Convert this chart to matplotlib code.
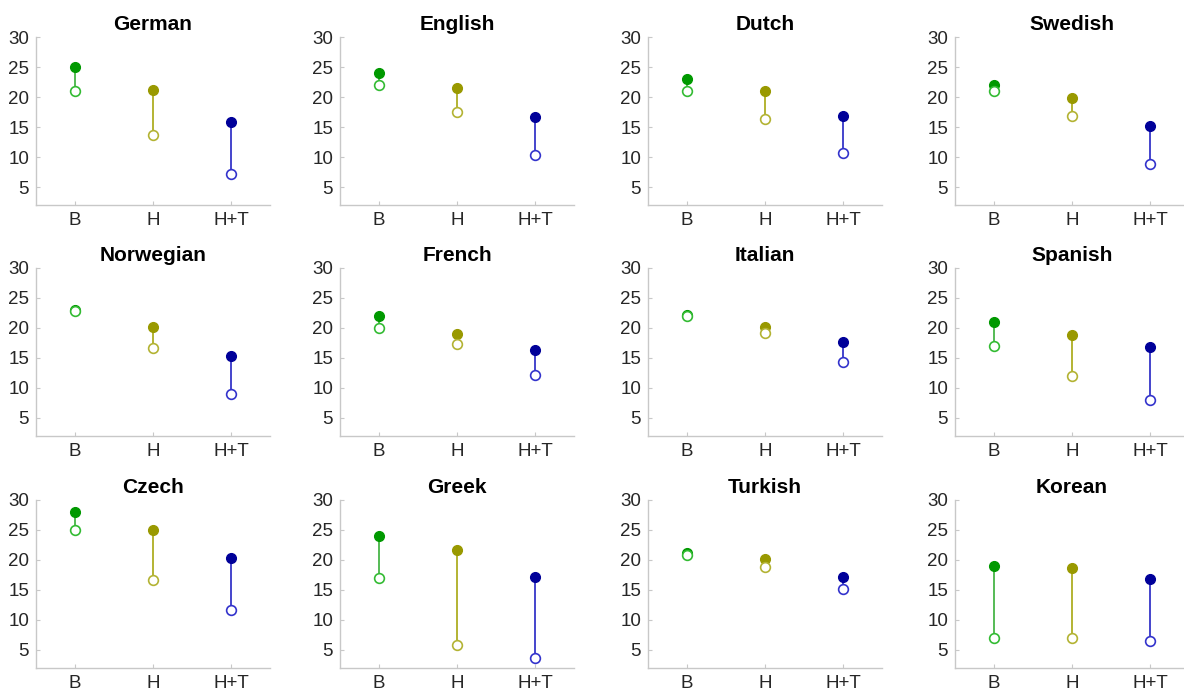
import matplotlib
matplotlib.use("Agg")
import matplotlib.pyplot as plt

languages = ["German", "English", "Dutch", "Swedish",
             "Norwegian", "French", "Italian", "Spanish",
             "Czech", "Greek", "Turkish", "Korean"]
conditions = ["B", "H", "H+T"]

# filled (upper) values per language: B, H, H+T
filled = {
    "German":    [25.0, 21.1, 15.8],
    "English":   [24.0, 21.5, 16.6],
    "Dutch":     [23.0, 21.0, 16.8],
    "Swedish":   [22.0, 19.8, 15.1],
    "Norwegian": [23.05, 20.1, 15.4],
    "French":    [22.0, 19.0, 16.3],
    "Italian":   [22.2, 20.1, 17.7],
    "Spanish":   [21.0, 18.8, 16.9],
    "Czech":     [28.0, 25.0, 20.4],
    "Greek":     [24.0, 21.7, 17.2],
    "Turkish":   [21.1, 20.1, 17.2],
    "Korean":    [19.0, 18.6, 16.8],
}
# open (lower) values per language: B, H, H+T
opened = {
    "German":    [21.0, 13.6, 7.2],
    "English":   [22.0, 17.5, 10.3],
    "Dutch":     [21.0, 16.3, 10.6],
    "Swedish":   [21.0, 16.8, 8.8],
    "Norwegian": [22.9, 16.7, 9.0],
    "French":    [20.0, 17.4, 12.2],
    "Italian":   [22.0, 19.2, 14.4],
    "Spanish":   [17.0, 12.0, 8.0],
    "Czech":     [25.0, 16.6, 11.7],
    "Greek":     [17.0, 5.8, 3.6],
    "Turkish":   [20.9, 18.9, 15.2],
    "Korean":    [7.0, 7.0, 6.5],
}

dark_colors = ["#009900", "#999900", "#000099"]
line_colors = ["#55bb55", "#b3b333", "#4444cc"]
open_colors = ["#33bb33", "#b3b333", "#3333cc"]

plt.rcParams["font.family"] = ["Liberation Sans", "DejaVu Sans"]

W, H = 1184, 697
fig = plt.figure(figsize=(W / 100, H / 100), dpi=100)

lefts = [36, 340, 648, 955]
tops = [37, 268, 500]
aw, ah = 234, 168

for idx, lang in enumerate(languages):
    r, c = divmod(idx, 4)
    l = lefts[c] / W
    b = 1 - (tops[r] + ah) / H
    ax = fig.add_axes([l, b, aw / W, ah / H])
    for i, cond in enumerate(conditions):
        x = i + 1
        ax.plot([x, x], [opened[lang][i], filled[lang][i]], color=line_colors[i],
                lw=1.4, zorder=1)
        ax.plot(x, filled[lang][i], "o", ms=7, mfc=dark_colors[i],
                mec=dark_colors[i], mew=1.0, zorder=2)
        ax.plot(x, opened[lang][i], "o", ms=7, mfc="white",
                mec=open_colors[i], mew=1.2, zorder=3)
    ax.set_xlim(0.5, 3.5)
    ax.set_ylim(2, 30)
    ax.set_xticks([1, 2, 3])
    ax.set_xticklabels(conditions)
    ax.set_yticks([5, 10, 15, 20, 25, 30])
    for s in ["top", "right"]:
        ax.spines[s].set_visible(False)
    for s in ["left", "bottom"]:
        ax.spines[s].set_color("#c8c8c8")
        ax.spines[s].set_linewidth(1.0)
    ax.tick_params(direction="in", length=3, color="#c8c8c8", labelsize=13.5,
                   labelcolor="#262626", pad=5)
    ax.set_title(lang, fontsize=15, fontweight="bold", pad=5)

fig.savefig("out.png", dpi=100, facecolor="white")
